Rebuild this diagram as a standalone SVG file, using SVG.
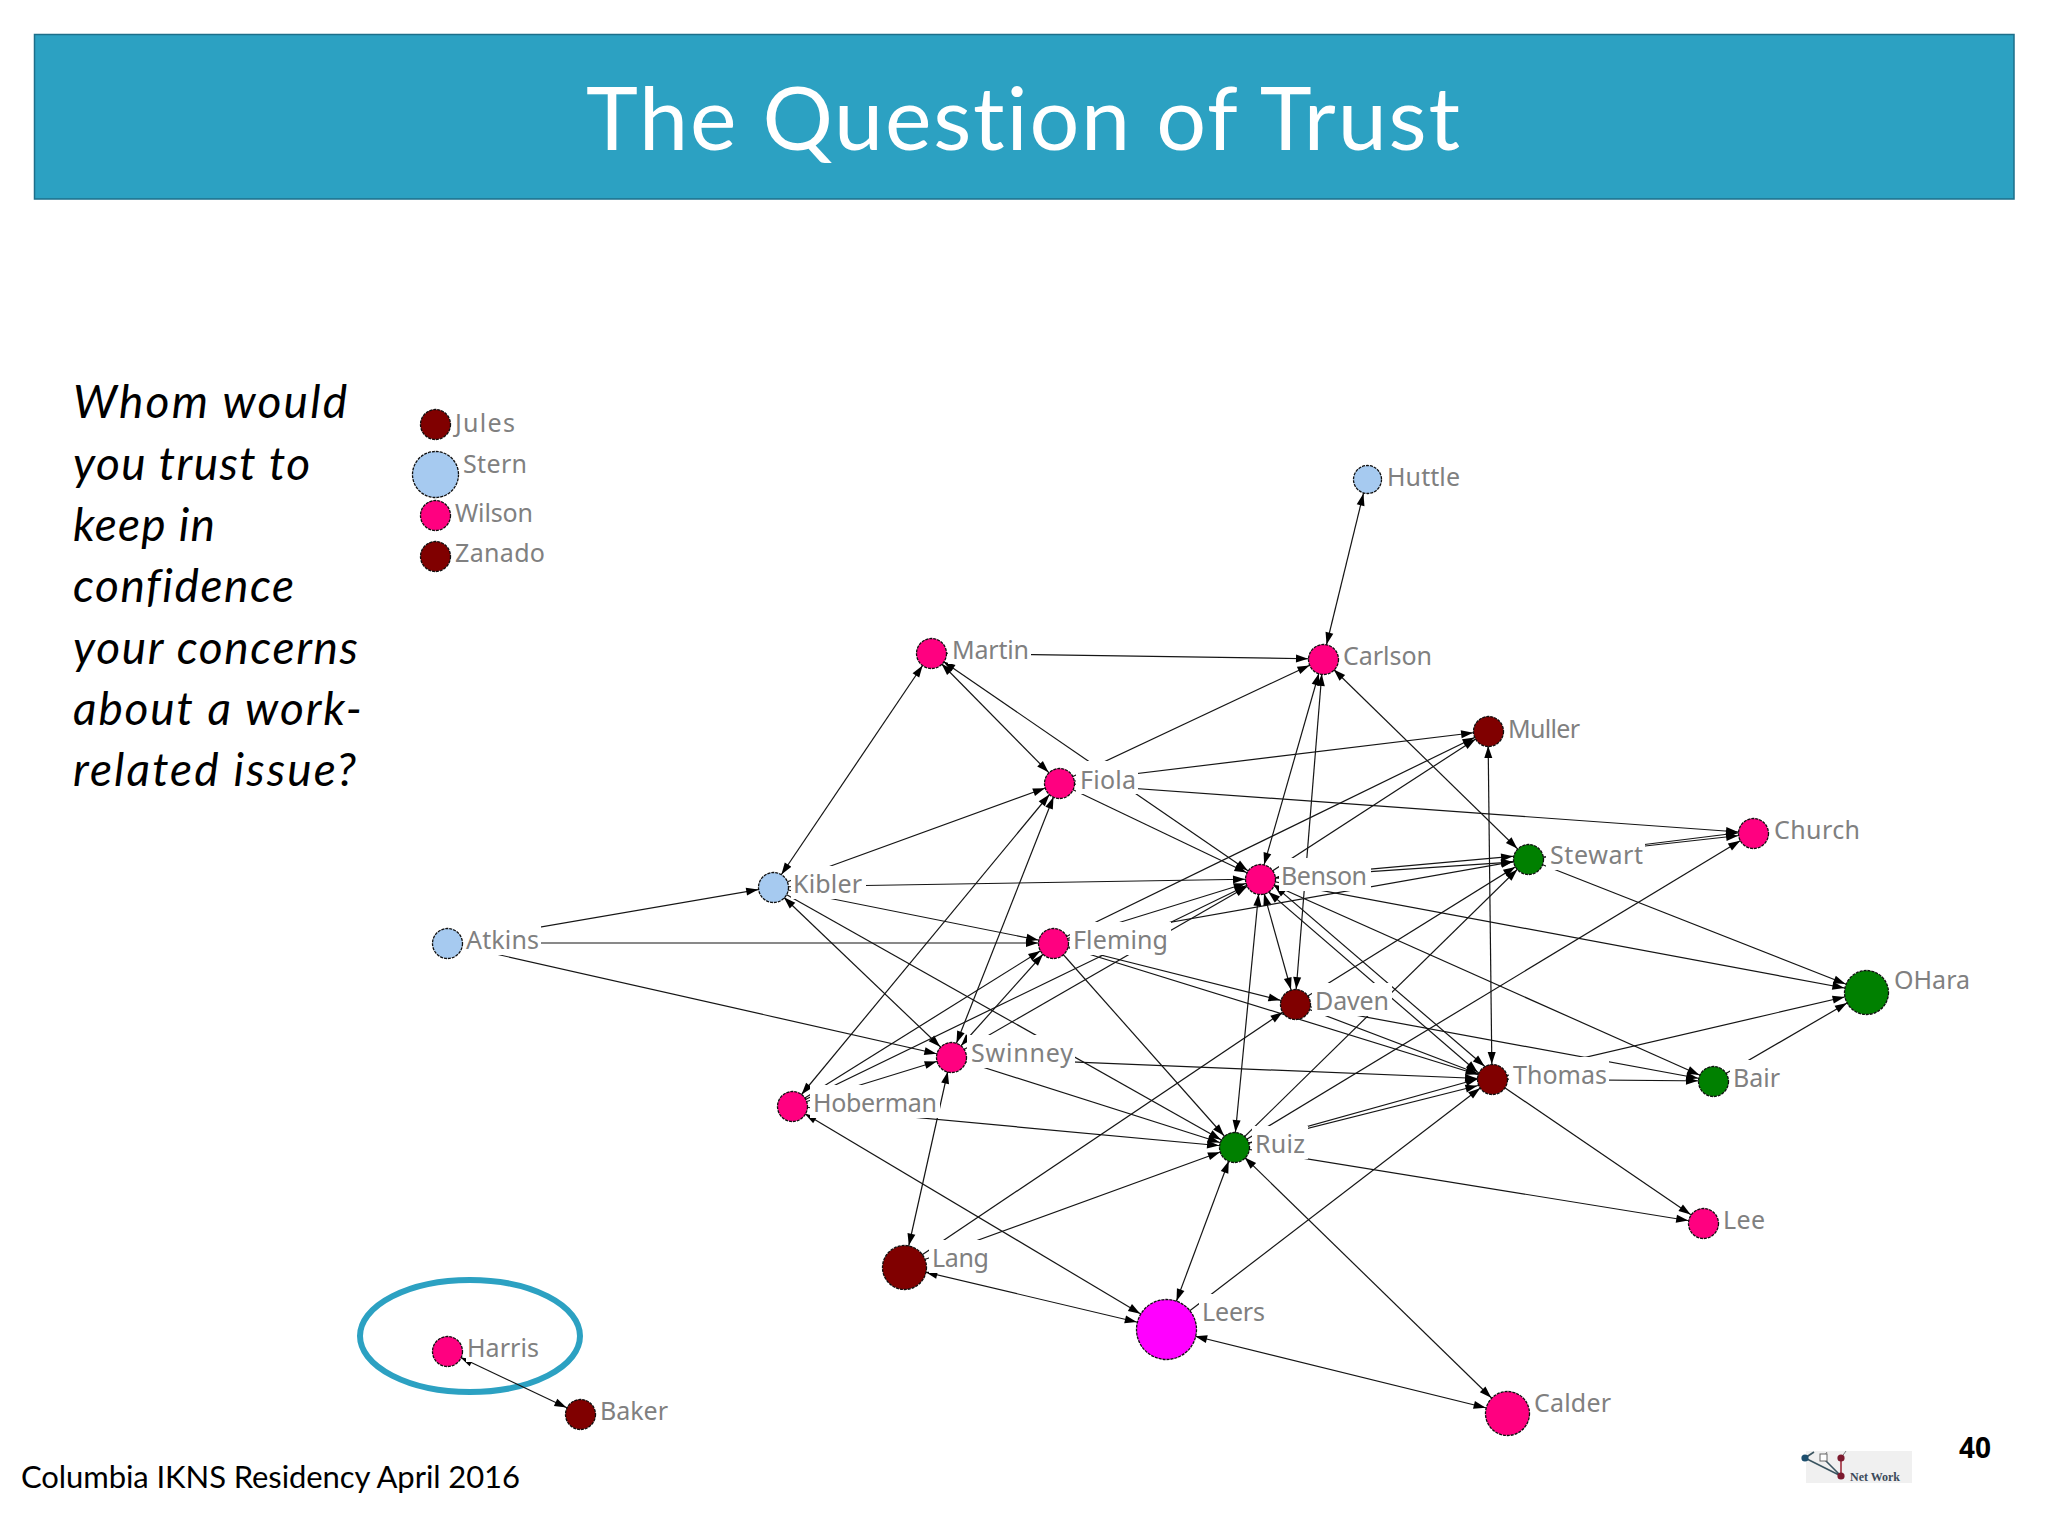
<svg xmlns="http://www.w3.org/2000/svg" width="2048" height="1536" viewBox="0 0 2048 1536">
<style>
.bg{fill:#fff}
.l{font-family:"Noto Sans",sans-serif;font-size:25px;fill:#808080}
.lb{fill:#fff}
.nd{stroke:#101010;stroke-width:1.3;stroke-dasharray:3 1}
.p{fill:#ff0080}.m{fill:#ff00ff}.r{fill:#800000}.g{fill:#008000}.u{fill:#a6caf0}
#connectors line{stroke:#151515;stroke-width:1.2;fill:none}
.t{marker-end:url(#a15)}.s{marker-start:url(#a15)}
.t22{marker-end:url(#a22)}.s22{marker-start:url(#a22)}
.t30{marker-end:url(#a30)}.s30{marker-start:url(#a30)}
.q{font-family:Lato,sans-serif;font-style:italic;font-size:46px;fill:#000;font-variant-ligatures:none}
</style>
<defs>
<marker id="a15" markerUnits="userSpaceOnUse" markerWidth="12" markerHeight="10" refX="27" refY="5" orient="auto-start-reverse" overflow="visible"><path d="M0,1L12,5L0,9z" fill="#000"/></marker>
<marker id="a22" markerUnits="userSpaceOnUse" markerWidth="12" markerHeight="10" refX="34" refY="5" orient="auto-start-reverse" overflow="visible"><path d="M0,1L12,5L0,9z" fill="#000"/></marker>
<marker id="a30" markerUnits="userSpaceOnUse" markerWidth="12" markerHeight="10" refX="42" refY="5" orient="auto-start-reverse" overflow="visible"><path d="M0,1L12,5L0,9z" fill="#000"/></marker>
</defs>
<rect class="bg" width="2048" height="1536"/>
<g id="header">
<rect x="34.5" y="34.5" width="1979.5" height="164.5" fill="#2ca1c2" stroke="#1d6f8a" stroke-width="1.5"/>
<text x="586" y="150" textLength="874" font-family="Lato,sans-serif" font-size="88" fill="#fff" style="font-variant-ligatures:none">The Question of Trust</text>
</g>
<g id="question">
<text class="q" x="73" y="418" textLength="274">Whom would</text>
<text class="q" x="73" y="480" textLength="237">you trust to</text>
<text class="q" x="73" y="541" textLength="142">keep in</text>
<text class="q" x="73" y="602" textLength="221">confidence</text>
<text class="q" x="73" y="664" textLength="285">your concerns</text>
<text class="q" x="73" y="725" textLength="289">about a work-</text>
<text class="q" x="73" y="786" textLength="283">related issue?</text>
</g>
<ellipse id="highlight" cx="470" cy="1336" rx="110" ry="56" fill="none" stroke="#2ca1c2" stroke-width="6"/>
<g id="connectors">
<line class="t s" x1="1367" y1="479" x2="1323" y2="659"/>
<line class="t" x1="931" y1="653" x2="1323" y2="659"/>
<line class="t s" x1="931" y1="653" x2="773" y2="887"/>
<line class="t s" x1="931" y1="653" x2="1059" y2="783"/>
<line class="t s" x1="931" y1="653" x2="1260" y2="879"/>
<line class="t" x1="1059" y1="783" x2="1323" y2="659"/>
<line class="t" x1="1059" y1="783" x2="1488" y2="731"/>
<line class="t" x1="1059" y1="783" x2="1753" y2="833"/>
<line class="t" x1="1059" y1="783" x2="1260" y2="879"/>
<line class="t" x1="773" y1="887" x2="1059" y2="783"/>
<line class="t" x1="773" y1="887" x2="1260" y2="879"/>
<line class="t" x1="773" y1="887" x2="1053" y2="943"/>
<line class="t s" x1="773" y1="887" x2="951" y2="1057"/>
<line class="t" x1="773" y1="887" x2="1234" y2="1147"/>
<line class="t" x1="447" y1="943" x2="773" y2="887"/>
<line class="t" x1="447" y1="943" x2="1053" y2="943"/>
<line class="t" x1="447" y1="943" x2="951" y2="1057"/>
<line class="t s" x1="1059" y1="783" x2="792" y2="1106"/>
<line class="t s" x1="1059" y1="783" x2="951" y2="1057"/>
<line class="t s" x1="1053" y1="943" x2="951" y2="1057"/>
<line class="t" x1="792" y1="1106" x2="1053" y2="943"/>
<line class="t" x1="792" y1="1106" x2="951" y2="1057"/>
<line class="t" x1="792" y1="1106" x2="1234" y2="1147"/>
<line class="t30 s" x1="792" y1="1106" x2="1166" y2="1329"/>
<line class="t" x1="951" y1="1057" x2="1492" y2="1079"/>
<line class="t" x1="951" y1="1057" x2="1234" y2="1147"/>
<line class="t22 s" x1="951" y1="1057" x2="904" y2="1267"/>
<line class="t" x1="1053" y1="943" x2="1260" y2="879"/>
<line class="t" x1="1053" y1="943" x2="1488" y2="731"/>
<line class="t" x1="1053" y1="943" x2="1295" y2="1004"/>
<line class="t" x1="1053" y1="943" x2="1492" y2="1079"/>
<line class="t" x1="1053" y1="943" x2="1234" y2="1147"/>
<line class="t" x1="1053" y1="943" x2="1528" y2="859"/>
<line class="t" x1="951" y1="1057" x2="1260" y2="879"/>
<line class="t" x1="792" y1="1106" x2="1260" y2="879"/>
<line class="t s" x1="1260" y1="879" x2="1323" y2="659"/>
<line class="t" x1="1260" y1="879" x2="1488" y2="731"/>
<line class="t s" x1="1260" y1="879" x2="1528" y2="855"/>
<line class="t" x1="1260" y1="879" x2="1528" y2="861"/>
<line class="t22" x1="1260" y1="879" x2="1866" y2="992"/>
<line class="t s" x1="1260" y1="879" x2="1713" y2="1081"/>
<line class="t s" x1="1263" y1="876" x2="1496" y2="1076"/>
<line class="t s" x1="1257" y1="882" x2="1489" y2="1082"/>
<line class="t s" x1="1260" y1="879" x2="1295" y2="1004"/>
<line class="t s" x1="1323" y1="659" x2="1295" y2="1004"/>
<line class="t s" x1="1323" y1="659" x2="1528" y2="859"/>
<line class="t s" x1="1488" y1="731" x2="1492" y2="1079"/>
<line class="t" x1="1528" y1="859" x2="1753" y2="831"/>
<line class="t" x1="1528" y1="859" x2="1753" y2="834"/>
<line class="t22" x1="1528" y1="859" x2="1866" y2="992"/>
<line class="t" x1="1295" y1="1004" x2="1528" y2="859"/>
<line class="t" x1="1295" y1="1004" x2="1492" y2="1079"/>
<line class="t" x1="1295" y1="1004" x2="1713" y2="1081"/>
<line class="t s" x1="1234" y1="1147" x2="1260" y2="879"/>
<line class="t" x1="1234" y1="1147" x2="1528" y2="859"/>
<line class="t" x1="1234" y1="1147" x2="1753" y2="833"/>
<line class="t" x1="1234" y1="1147" x2="1492" y2="1075"/>
<line class="t" x1="1234" y1="1147" x2="1492" y2="1082"/>
<line class="t" x1="1234" y1="1147" x2="1703" y2="1223"/>
<line class="t30 s" x1="1234" y1="1147" x2="1166" y2="1329"/>
<line class="t22 s" x1="1234" y1="1147" x2="1507" y2="1413"/>
<line class="t" x1="904" y1="1267" x2="1295" y2="1004"/>
<line class="t" x1="904" y1="1267" x2="1234" y2="1147"/>
<line class="t30 s22" x1="904" y1="1267" x2="1166" y2="1329"/>
<line class="t" x1="1166" y1="1329" x2="1492" y2="1079"/>
<line class="t22 s30" x1="1166" y1="1329" x2="1507" y2="1413"/>
<line class="t22" x1="1492" y1="1079" x2="1866" y2="992"/>
<line class="t" x1="1492" y1="1079" x2="1713" y2="1081"/>
<line class="t" x1="1492" y1="1079" x2="1703" y2="1223"/>
<line class="t22" x1="1713" y1="1081" x2="1866" y2="992"/>
<line class="t s" x1="447" y1="1351" x2="580" y2="1414"/>
</g>
<g id="n-jules"><rect class="lb" x="450" y="405" width="66" height="33"/><text class="l" x="455" y="432" textLength="60">Jules</text><circle class="nd r" cx="435.5" cy="424.5" r="15"/></g>
<g id="n-stern"><rect class="lb" x="458" y="445" width="70" height="33"/><text class="l" x="463" y="473" textLength="64">Stern</text><circle class="nd u" cx="435.5" cy="474.5" r="23"/></g>
<g id="n-wilson"><rect class="lb" x="450" y="495" width="84" height="33"/><text class="l" x="455" y="522" textLength="78">Wilson</text><circle class="nd p" cx="435.5" cy="515.5" r="15"/></g>
<g id="n-zanado"><rect class="lb" x="450" y="535" width="96" height="33"/><text class="l" x="455" y="562" textLength="90">Zanado</text><circle class="nd r" cx="435.5" cy="556.5" r="15"/></g>
<g id="n-huttle"><rect class="lb" x="1383" y="459" width="79" height="33"/><text class="l" x="1387" y="486" textLength="73">Huttle</text><circle class="nd u" cx="1367.5" cy="479.5" r="14"/></g>
<g id="n-martin"><rect class="lb" x="948" y="631" width="83" height="33"/><text class="l" x="952" y="659" textLength="77">Martin</text><circle class="nd p" cx="931.5" cy="653.5" r="15"/></g>
<g id="n-carlson"><rect class="lb" x="1339" y="638" width="95" height="33"/><text class="l" x="1343" y="665" textLength="89">Carlson</text><circle class="nd p" cx="1323.5" cy="659.5" r="15"/></g>
<g id="n-muller"><rect class="lb" x="1504" y="711" width="78" height="33"/><text class="l" x="1508" y="738" textLength="72">Muller</text><circle class="nd r" cx="1488.5" cy="731.5" r="15"/></g>
<g id="n-fiola"><rect class="lb" x="1076" y="761" width="62" height="33"/><text class="l" x="1080" y="789" textLength="56">Fiola</text><circle class="nd p" cx="1059.5" cy="783.5" r="15"/></g>
<g id="n-church"><rect class="lb" x="1771" y="812" width="92" height="33"/><text class="l" x="1774" y="839" textLength="86">Church</text><circle class="nd p" cx="1753.5" cy="833.5" r="15"/></g>
<g id="n-stewart"><rect class="lb" x="1546" y="837" width="99" height="33"/><text class="l" x="1550" y="864" textLength="93">Stewart</text><circle class="nd g" cx="1528.5" cy="859.5" r="15"/></g>
<g id="n-benson"><rect class="lb" x="1279" y="858" width="92" height="33"/><text class="l" x="1281" y="885" textLength="86">Benson</text><circle class="nd p" cx="1260.5" cy="879.5" r="15"/></g>
<g id="n-kibler"><rect class="lb" x="791" y="866" width="75" height="33"/><text class="l" x="793" y="893" textLength="69">Kibler</text><circle class="nd u" cx="773.5" cy="887.5" r="15"/></g>
<g id="n-atkins"><rect class="lb" x="462" y="922" width="79" height="33"/><text class="l" x="466" y="949" textLength="73">Atkins</text><circle class="nd u" cx="447.5" cy="943.5" r="15"/></g>
<g id="n-fleming"><rect class="lb" x="1070" y="922" width="101" height="33"/><text class="l" x="1073" y="949" textLength="95">Fleming</text><circle class="nd p" cx="1053.5" cy="943.5" r="15"/></g>
<g id="n-daven"><rect class="lb" x="1312" y="983" width="80" height="33"/><text class="l" x="1315" y="1010" textLength="74">Daven</text><circle class="nd r" cx="1295.5" cy="1004.5" r="15"/></g>
<g id="n-ohara"><rect class="lb" x="1891" y="962" width="82" height="33"/><text class="l" x="1894" y="989" textLength="76">OHara</text><circle class="nd g" cx="1866.5" cy="992.5" r="22"/></g>
<g id="n-swinney"><rect class="lb" x="967" y="1035" width="108" height="33"/><text class="l" x="971" y="1062" textLength="102">Swinney</text><circle class="nd p" cx="951.5" cy="1057.5" r="15"/></g>
<g id="n-thomas"><rect class="lb" x="1509" y="1057" width="100" height="33"/><text class="l" x="1513" y="1084" textLength="94">Thomas</text><circle class="nd r" cx="1492.5" cy="1079.5" r="15"/></g>
<g id="n-bair"><rect class="lb" x="1730" y="1060" width="53" height="33"/><text class="l" x="1733" y="1087" textLength="47">Bair</text><circle class="nd g" cx="1713.5" cy="1081.5" r="15"/></g>
<g id="n-hoberman"><rect class="lb" x="810" y="1085" width="130" height="33"/><text class="l" x="813" y="1112" textLength="124">Hoberman</text><circle class="nd p" cx="792.5" cy="1106.5" r="15"/></g>
<g id="n-ruiz"><rect class="lb" x="1252" y="1126" width="56" height="33"/><text class="l" x="1255" y="1153" textLength="50">Ruiz</text><circle class="nd g" cx="1234.5" cy="1147.5" r="15"/></g>
<g id="n-lee"><rect class="lb" x="1720" y="1202" width="48" height="33"/><text class="l" x="1723" y="1229" textLength="42">Lee</text><circle class="nd p" cx="1703.5" cy="1223.5" r="15"/></g>
<g id="n-lang"><rect class="lb" x="929" y="1240" width="63" height="33"/><text class="l" x="932" y="1267" textLength="57">Lang</text><circle class="nd r" cx="904.5" cy="1267.5" r="22"/></g>
<g id="n-leers"><rect class="lb" x="1199" y="1294" width="69" height="33"/><text class="l" x="1202" y="1321" textLength="63">Leers</text><circle class="nd m" cx="1166.5" cy="1329.5" r="30"/></g>
<g id="n-calder"><rect class="lb" x="1531" y="1385" width="83" height="33"/><text class="l" x="1534" y="1412" textLength="77">Calder</text><circle class="nd p" cx="1507.5" cy="1413.5" r="22"/></g>
<g id="n-harris"><rect class="lb" x="466" y="1332" width="76" height="30"/><text class="l" x="467" y="1357" textLength="72">Harris</text><circle class="nd p" cx="447.5" cy="1351.5" r="15"/></g>
<g id="n-baker"><rect class="lb" x="598" y="1393" width="74" height="33"/><text class="l" x="600" y="1420" textLength="68">Baker</text><circle class="nd r" cx="580.5" cy="1414.5" r="15"/></g>
<text id="footer" x="21" y="1488" textLength="499" font-family="Lato,sans-serif" font-size="31" fill="#000">Columbia IKNS Residency April 2016</text>
<text id="page" x="1959" y="1458" font-family="Noto Sans,sans-serif" font-weight="700" font-size="28" fill="#000">40</text>
<g id="logo">
<rect x="1806" y="1451" width="106" height="32" fill="#f0f0f0"/>
<path d="M1805,1458L1841,1476M1823,1458L1841,1476M1805,1458L1814,1452" stroke="#3b5560" stroke-width="1.6" fill="none"/>
<path d="M1827,1452L1823,1458M1841,1458L1846,1451" stroke="#7b7b7b" stroke-width="1" fill="none"/>
<path d="M1841,1458V1476" stroke="#a02c3c" stroke-width="1.6"/>
<rect x="1820" y="1454" width="7" height="7" fill="#fff" stroke="#666" stroke-width="1"/>
<circle cx="1805" cy="1458" r="3.6" fill="#1d4f6e"/>
<circle cx="1841" cy="1458" r="3.6" fill="#7c1a2e"/>
<circle cx="1841" cy="1476" r="3.6" fill="#7c1a2e"/>
<text x="1850" y="1481" textLength="50" font-family="Liberation Serif,serif" font-weight="700" font-size="12" fill="#3b4a5a">Net Work</text>
</g>
</svg>
